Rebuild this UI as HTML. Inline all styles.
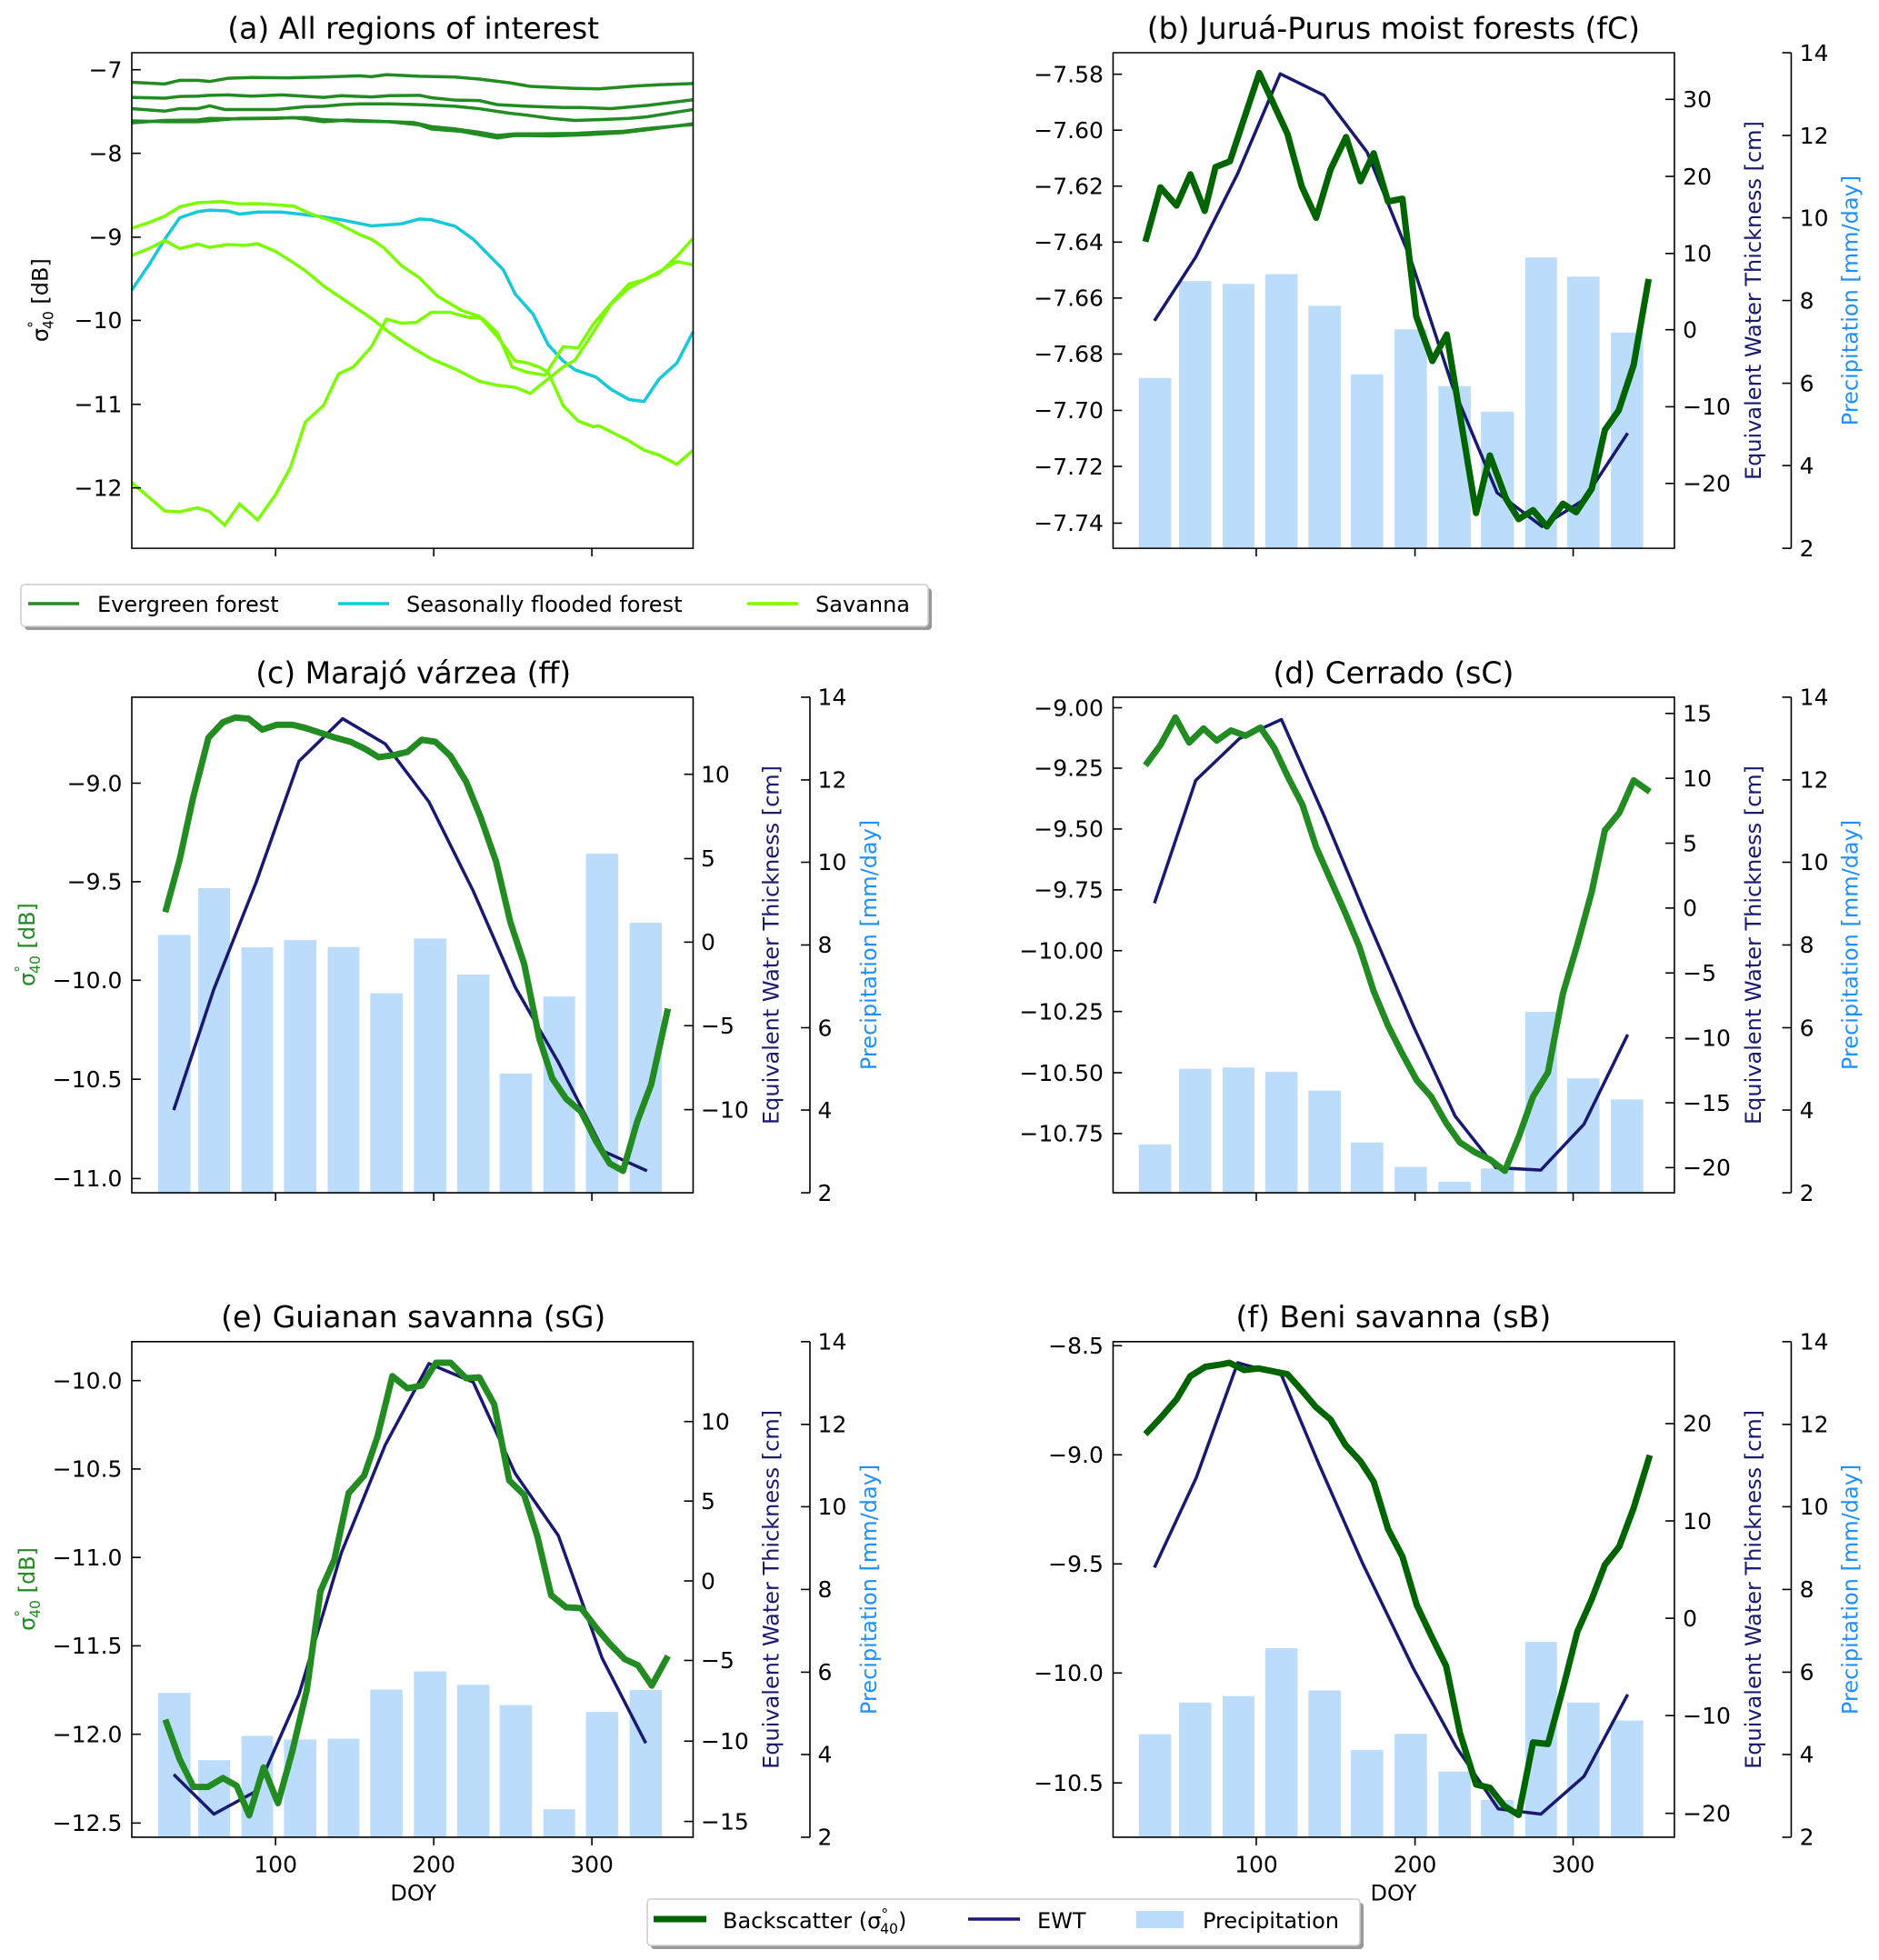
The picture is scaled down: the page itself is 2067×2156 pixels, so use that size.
<!DOCTYPE html>
<html><head><meta charset="utf-8"><style>
html,body{margin:0;padding:0;background:#fff}
svg{display:block}
text{font-family:"DejaVu Sans","Liberation Sans",sans-serif;fill:#000}
.t{font-size:25px}
.ti{font-size:33px;text-anchor:middle}
.al{font-size:24px;text-anchor:middle}
polyline,line,rect,path{vector-effect:non-scaling-stroke}
.fr{fill:none;stroke:#000;stroke-width:1.6}
.tk{stroke:#000;stroke-width:1.6}
.g1{fill:none;stroke:#006400;stroke-width:7;stroke-linejoin:round}
.g2{fill:none;stroke:#228B22;stroke-width:7;stroke-linejoin:round}
.nv{fill:none;stroke:#191970;stroke-width:3.5;stroke-linejoin:round}
.bar{fill:#bcdcfc}
.ev{fill:none;stroke:#228B22;stroke-width:3.5}
.cy{fill:none;stroke:#17c8d8;stroke-width:3.5}
.sv{fill:none;stroke:#7CFC00;stroke-width:3.5}
</style></head><body>
<svg width="2067" height="2156" viewBox="0 0 2067 2156" xmlns="http://www.w3.org/2000/svg">
<rect x="0" y="0" width="2067" height="2156" fill="#fff"/>

<!-- Panel a -->
<g transform="translate(0,0) scale(0.659,0.4461)">
<polyline class="ev" points="220,203 275,207 300,198 330,198 350,201 380,193 420,191 480,192 540,190 600,187 620,189 645,184 700,188 760,190 800,195 850,204 885,213 960,218 1000,219 1060,212 1100,209 1157,206"/>
<polyline class="ev" points="220,240 275,242 300,238 330,237 350,235 380,234 420,237 470,234 540,240 570,236 620,239 650,236 700,235 720,241 760,247 800,248 830,258 880,262 940,265 970,265 1020,268 1080,260 1157,246"/>
<polyline class="ev" points="220,268 275,274 300,268 330,268 350,261 375,270 420,270 460,270 510,263 540,262 570,258 600,256 650,256 700,258 760,262 800,268 850,279 880,284 920,292 960,297 1000,295 1050,292 1080,288 1157,270"/>
<polyline class="ev" points="220,303 275,297 330,296 350,292 400,293 460,292 490,290 540,300 580,296 650,300 690,302 720,312 760,318 800,326 830,334 860,330 900,330 960,329 1000,326 1040,324 1080,317 1157,307"/>
<polyline class="ev" points="220,298 275,300 330,300 400,292 460,291 510,290 540,295 600,299 650,300 700,308 720,318 770,324 810,335 830,340 860,334 920,335 980,332 1040,327 1090,318 1157,305"/>
<polyline class="cy" points="220,715 250,650 275,590 300,537 330,522 350,518 380,520 400,528 430,523 470,523 500,528 540,535 570,542 620,557 670,552 700,540 720,542 760,558 790,590 810,620 840,665 860,725 890,775 915,850 940,890 960,912 995,930 1020,960 1050,985 1075,990 1100,935 1130,895 1157,818"/>
<polyline class="sv" points="220,563 250,548 275,533 300,510 330,500 370,497 400,503 430,502 460,505 490,508 520,528 560,548 600,578 620,590 640,610 670,655 700,685 730,730 770,765 800,780 830,830 860,890 880,895 900,905 915,918 940,1000 965,1038 990,1052 1000,1050 1020,1065 1050,1087 1075,1110 1100,1122 1130,1145 1157,1110"/>
<polyline class="sv" points="220,630 250,612 275,593 300,613 330,602 350,610 380,603 410,605 430,601 460,620 490,648 510,668 540,705 570,735 600,765 620,785 650,820 680,850 720,885 760,910 800,940 830,950 860,955 885,970 910,940 940,905 960,888 990,820 1020,750 1050,710 1075,690 1100,670 1130,645 1157,653"/>
<polyline class="sv" points="220,1190 250,1228 275,1260 300,1262 330,1252 350,1262 375,1295 400,1243 430,1282 460,1220 485,1152 510,1040 540,1000 565,922 590,905 620,855 645,787 670,797 695,795 720,770 750,770 780,782 805,785 830,820 855,905 880,918 910,925 940,855 965,858 990,800 1020,748 1050,700 1075,690 1100,674 1130,632 1157,588"/>
<rect class="fr" x="220" y="130" width="937" height="1222"/>
<line class="tk" x1="220" y1="172" x2="235" y2="172"/><line class="tk" x1="220" y1="378" x2="235" y2="378"/><line class="tk" x1="220" y1="585" x2="235" y2="585"/><line class="tk" x1="220" y1="790" x2="235" y2="790"/><line class="tk" x1="220" y1="997" x2="235" y2="997"/><line class="tk" x1="220" y1="1203" x2="235" y2="1203"/>
<line class="tk" x1="460" y1="1352" x2="460" y2="1372"/><line class="tk" x1="724" y1="1352" x2="724" y2="1372"/><line class="tk" x1="988" y1="1352" x2="988" y2="1372"/>
<g class="t" text-anchor="end">
<text transform="translate(204,172) scale(1.5175,2.2416)" dy=".35em">−7</text>
<text transform="translate(204,378) scale(1.5175,2.2416)" dy=".35em">−8</text>
<text transform="translate(204,585) scale(1.5175,2.2416)" dy=".35em">−9</text>
<text transform="translate(204,790) scale(1.5175,2.2416)" dy=".35em">−10</text>
<text transform="translate(204,997) scale(1.5175,2.2416)" dy=".35em">−11</text>
<text transform="translate(204,1203) scale(1.5175,2.2416)" dy=".35em">−12</text>
</g>
<text class="ti" transform="translate(690,95) scale(1.5175,2.2416)">(a) All regions of interest</text>
<text class="al" transform="translate(80,740) scale(1.5175,2.2416) rotate(-90)">σ<tspan font-size="65%" dy="-10">°</tspan><tspan font-size="65%" dx="-9" dy="16">40</tspan><tspan dy="-6"> [dB]</tspan></text>
</g>

<!-- legend a -->
<rect x="27" y="647" width="998" height="46" rx="4" fill="#999"/>
<rect x="23" y="643" width="998" height="46" rx="4" fill="#fff" stroke="#ccc" stroke-width="1.5"/>
<line x1="31" y1="664" x2="87" y2="664" stroke="#228B22" stroke-width="3.5"/>
<text x="107" y="673" style="font-size:24px">Evergreen forest</text>
<line x1="372" y1="664" x2="428" y2="664" stroke="#17c8d8" stroke-width="3.5"/>
<text x="447" y="673" style="font-size:24px">Seasonally flooded forest</text>
<line x1="822" y1="664" x2="878" y2="664" stroke="#7CFC00" stroke-width="3.5"/>
<text x="897" y="673" style="font-size:24px">Savanna</text>

<!-- Panel b -->
<g transform="translate(1034,0) scale(0.659,0.4461)">
<g class="bar">
<rect x="332" y="932" width="54" height="420"/><rect x="399" y="693" width="54" height="659"/><rect x="472" y="700" width="53" height="652"/><rect x="543" y="676" width="54" height="676"/><rect x="615" y="754" width="54" height="598"/><rect x="686" y="923" width="54" height="429"/><rect x="759" y="812" width="54" height="540"/><rect x="832" y="952" width="54" height="400"/><rect x="903" y="1015" width="55" height="337"/><rect x="977" y="635" width="53" height="717"/><rect x="1047" y="682" width="54" height="670"/><rect x="1120" y="820" width="54" height="532"/>
</g>
<polyline class="nv" points="358,791 427,634 497,428 568,182 641,235 713,375 786,640 855,950 930,1215 1005,1298 1075,1232 1148,1068"/>
<polyline class="g1" points="343,596 368,462 395,507 418,430 442,520 460,412 484,398 533,180 580,330 604,460 628,537 652,418 678,338 702,447 724,378 748,497 772,490 795,780 822,890 846,825 895,1265 918,1123 945,1230 966,1280 990,1258 1013,1298 1040,1242 1062,1263 1088,1205 1110,1060 1133,1012 1158,900 1183,688"/>
<rect class="fr" x="289" y="130" width="937" height="1222"/>
<line class="tk" x1="1421" y1="130" x2="1421" y2="1352"/>
<g class="tk">
<line x1="289" y1="183" x2="304" y2="183"/><line x1="289" y1="321" x2="304" y2="321"/><line x1="289" y1="459" x2="304" y2="459"/><line x1="289" y1="597" x2="304" y2="597"/><line x1="289" y1="735" x2="304" y2="735"/><line x1="289" y1="873" x2="304" y2="873"/><line x1="289" y1="1012" x2="304" y2="1012"/><line x1="289" y1="1150" x2="304" y2="1150"/><line x1="289" y1="1290" x2="304" y2="1290"/>
<line x1="1211" y1="245" x2="1226" y2="245"/><line x1="1211" y1="435" x2="1226" y2="435"/><line x1="1211" y1="625" x2="1226" y2="625"/><line x1="1211" y1="813" x2="1226" y2="813"/><line x1="1211" y1="1003" x2="1226" y2="1003"/><line x1="1211" y1="1192" x2="1226" y2="1192"/>
<line x1="1406" y1="130" x2="1421" y2="130"/><line x1="1406" y1="334" x2="1421" y2="334"/><line x1="1406" y1="537" x2="1421" y2="537"/><line x1="1406" y1="741" x2="1421" y2="741"/><line x1="1406" y1="945" x2="1421" y2="945"/><line x1="1406" y1="1148" x2="1421" y2="1148"/><line x1="1406" y1="1352" x2="1421" y2="1352"/>
<line x1="528" y1="1352" x2="528" y2="1372"/><line x1="793" y1="1352" x2="793" y2="1372"/><line x1="1057" y1="1352" x2="1057" y2="1372"/>
</g>
<g class="t" text-anchor="end">
<text transform="translate(273,183) scale(1.5175,2.2416)" dy=".35em">−7.58</text>
<text transform="translate(273,321) scale(1.5175,2.2416)" dy=".35em">−7.60</text>
<text transform="translate(273,459) scale(1.5175,2.2416)" dy=".35em">−7.62</text>
<text transform="translate(273,597) scale(1.5175,2.2416)" dy=".35em">−7.64</text>
<text transform="translate(273,735) scale(1.5175,2.2416)" dy=".35em">−7.66</text>
<text transform="translate(273,873) scale(1.5175,2.2416)" dy=".35em">−7.68</text>
<text transform="translate(273,1012) scale(1.5175,2.2416)" dy=".35em">−7.70</text>
<text transform="translate(273,1150) scale(1.5175,2.2416)" dy=".35em">−7.72</text>
<text transform="translate(273,1290) scale(1.5175,2.2416)" dy=".35em">−7.74</text>
</g>
<g class="t">
<text transform="translate(1240,245) scale(1.5175,2.2416)" dy=".35em">30</text>
<text transform="translate(1240,435) scale(1.5175,2.2416)" dy=".35em">20</text>
<text transform="translate(1240,625) scale(1.5175,2.2416)" dy=".35em">10</text>
<text transform="translate(1240,813) scale(1.5175,2.2416)" dy=".35em">0</text>
<text transform="translate(1240,1003) scale(1.5175,2.2416)" dy=".35em">−10</text>
<text transform="translate(1240,1192) scale(1.5175,2.2416)" dy=".35em">−20</text>
<text transform="translate(1435,130) scale(1.5175,2.2416)" dy=".35em">14</text>
<text transform="translate(1435,334) scale(1.5175,2.2416)" dy=".35em">12</text>
<text transform="translate(1435,537) scale(1.5175,2.2416)" dy=".35em">10</text>
<text transform="translate(1435,741) scale(1.5175,2.2416)" dy=".35em">8</text>
<text transform="translate(1435,945) scale(1.5175,2.2416)" dy=".35em">6</text>
<text transform="translate(1435,1148) scale(1.5175,2.2416)" dy=".35em">4</text>
<text transform="translate(1435,1352) scale(1.5175,2.2416)" dy=".35em">2</text>
</g>
<text class="ti" transform="translate(757,95) scale(1.5175,2.2416)">(b) Juruá-Purus moist forests (fC)</text>
<text class="al" style="fill:#191970" transform="translate(1370,741) scale(1.5175,2.2416) rotate(-90)">Equivalent Water Thickness [cm]</text>
<text class="al" style="fill:#1E90FF" transform="translate(1532,741) scale(1.5175,2.2416) rotate(-90)">Precipitation [mm/day]</text>
</g>

<!-- Panel c -->
<g transform="translate(0,700) scale(0.659,0.4461)">
<g class="bar">
<rect x="264" y="736" width="54" height="636"/><rect x="331" y="621" width="53" height="751"/><rect x="403" y="767" width="53" height="605"/><rect x="474" y="749" width="54" height="623"/><rect x="547" y="766" width="53" height="606"/><rect x="618" y="880" width="54" height="492"/><rect x="691" y="745" width="54" height="627"/><rect x="763" y="834" width="54" height="538"/><rect x="834" y="1078" width="54" height="294"/><rect x="907" y="888" width="53" height="484"/><rect x="978" y="536" width="54" height="836"/><rect x="1051" y="706" width="54" height="666"/>
</g>
<polyline class="nv" points="290,1168 357,870 428,605 499,308 572,203 643,265 716,408 790,628 860,865 932,1050 1008,1270 1080,1318"/>
<polyline class="g2" points="276,680 300,550 322,400 348,250 372,212 393,200 415,203 438,230 462,218 488,218 510,226 535,238 560,250 585,260 610,278 632,298 657,293 680,285 704,255 727,260 752,295 778,358 802,445 828,555 852,705 875,808 900,990 922,1090 945,1140 970,1172 995,1245 1018,1300 1040,1318 1064,1195 1087,1105 1115,918"/>
<rect class="fr" x="220" y="150" width="937" height="1222"/>
<line class="tk" x1="1352" y1="150" x2="1352" y2="1372"/>
<g class="tk">
<line x1="220" y1="362" x2="235" y2="362"/><line x1="220" y1="605" x2="235" y2="605"/><line x1="220" y1="848" x2="235" y2="848"/><line x1="220" y1="1092" x2="235" y2="1092"/><line x1="220" y1="1337" x2="235" y2="1337"/>
<line x1="1142" y1="340" x2="1157" y2="340"/><line x1="1142" y1="548" x2="1157" y2="548"/><line x1="1142" y1="754" x2="1157" y2="754"/><line x1="1142" y1="960" x2="1157" y2="960"/><line x1="1142" y1="1167" x2="1157" y2="1167"/>
<line x1="1337" y1="150" x2="1352" y2="150"/><line x1="1337" y1="354" x2="1352" y2="354"/><line x1="1337" y1="557" x2="1352" y2="557"/><line x1="1337" y1="761" x2="1352" y2="761"/><line x1="1337" y1="965" x2="1352" y2="965"/><line x1="1337" y1="1168" x2="1352" y2="1168"/><line x1="1337" y1="1372" x2="1352" y2="1372"/>
<line x1="460" y1="1372" x2="460" y2="1392"/><line x1="724" y1="1372" x2="724" y2="1392"/><line x1="988" y1="1372" x2="988" y2="1392"/>
</g>
<g class="t" text-anchor="end">
<text transform="translate(204,362) scale(1.5175,2.2416)" dy=".35em">−9.0</text>
<text transform="translate(204,605) scale(1.5175,2.2416)" dy=".35em">−9.5</text>
<text transform="translate(204,848) scale(1.5175,2.2416)" dy=".35em">−10.0</text>
<text transform="translate(204,1092) scale(1.5175,2.2416)" dy=".35em">−10.5</text>
<text transform="translate(204,1337) scale(1.5175,2.2416)" dy=".35em">−11.0</text>
</g>
<g class="t">
<text transform="translate(1170,340) scale(1.5175,2.2416)" dy=".35em">10</text>
<text transform="translate(1170,548) scale(1.5175,2.2416)" dy=".35em">5</text>
<text transform="translate(1170,754) scale(1.5175,2.2416)" dy=".35em">0</text>
<text transform="translate(1170,960) scale(1.5175,2.2416)" dy=".35em">−5</text>
<text transform="translate(1170,1167) scale(1.5175,2.2416)" dy=".35em">−10</text>
<text transform="translate(1365,150) scale(1.5175,2.2416)" dy=".35em">14</text>
<text transform="translate(1365,354) scale(1.5175,2.2416)" dy=".35em">12</text>
<text transform="translate(1365,557) scale(1.5175,2.2416)" dy=".35em">10</text>
<text transform="translate(1365,761) scale(1.5175,2.2416)" dy=".35em">8</text>
<text transform="translate(1365,965) scale(1.5175,2.2416)" dy=".35em">6</text>
<text transform="translate(1365,1168) scale(1.5175,2.2416)" dy=".35em">4</text>
<text transform="translate(1365,1372) scale(1.5175,2.2416)" dy=".35em">2</text>
</g>
<text class="ti" transform="translate(690,115) scale(1.5175,2.2416)">(c) Marajó várzea (ff)</text>
<text class="al" style="fill:#228B22" transform="translate(58,760) scale(1.5175,2.2416) rotate(-90)">σ<tspan font-size="65%" dy="-10">°</tspan><tspan font-size="65%" dx="-9" dy="16">40</tspan><tspan dy="-6"> [dB]</tspan></text>
<text class="al" style="fill:#191970" transform="translate(1300,761) scale(1.5175,2.2416) rotate(-90)">Equivalent Water Thickness [cm]</text>
<text class="al" style="fill:#1E90FF" transform="translate(1463,761) scale(1.5175,2.2416) rotate(-90)">Precipitation [mm/day]</text>
</g>

<!-- Panel d -->
<g transform="translate(1034,700) scale(0.659,0.4461)">
<g class="bar">
<rect x="332" y="1253" width="54" height="119"/><rect x="399" y="1066" width="54" height="306"/><rect x="472" y="1063" width="53" height="309"/><rect x="543" y="1074" width="54" height="298"/><rect x="615" y="1120" width="54" height="252"/><rect x="686" y="1248" width="54" height="124"/><rect x="759" y="1308" width="54" height="64"/><rect x="832" y="1345" width="54" height="27"/><rect x="903" y="1312" width="55" height="60"/><rect x="977" y="926" width="53" height="446"/><rect x="1047" y="1090" width="54" height="282"/><rect x="1120" y="1142" width="54" height="230"/>
</g>
<polyline class="nv" points="358,658 427,355 500,252 570,205 642,445 714,700 790,960 860,1183 928,1310 1003,1316 1075,1203 1148,982"/>
<polyline class="g2" points="343,318 368,268 393,200 416,262 440,227 462,257 486,232 510,245 535,225 558,275 582,350 605,415 628,520 652,600 676,680 700,765 724,875 748,960 772,1030 796,1095 820,1135 845,1200 868,1248 893,1272 918,1290 943,1318 966,1235 990,1135 1015,1075 1040,880 1064,760 1088,630 1110,478 1134,435 1158,355 1185,383"/>
<rect class="fr" x="289" y="150" width="937" height="1222"/>
<line class="tk" x1="1421" y1="150" x2="1421" y2="1372"/>
<g class="tk">
<line x1="289" y1="176" x2="304" y2="176"/><line x1="289" y1="325" x2="304" y2="325"/><line x1="289" y1="475" x2="304" y2="475"/><line x1="289" y1="625" x2="304" y2="625"/><line x1="289" y1="775" x2="304" y2="775"/><line x1="289" y1="925" x2="304" y2="925"/><line x1="289" y1="1076" x2="304" y2="1076"/><line x1="289" y1="1226" x2="304" y2="1226"/>
<line x1="1211" y1="190" x2="1226" y2="190"/><line x1="1211" y1="350" x2="1226" y2="350"/><line x1="1211" y1="510" x2="1226" y2="510"/><line x1="1211" y1="670" x2="1226" y2="670"/><line x1="1211" y1="830" x2="1226" y2="830"/><line x1="1211" y1="990" x2="1226" y2="990"/><line x1="1211" y1="1150" x2="1226" y2="1150"/><line x1="1211" y1="1310" x2="1226" y2="1310"/>
<line x1="1406" y1="150" x2="1421" y2="150"/><line x1="1406" y1="354" x2="1421" y2="354"/><line x1="1406" y1="557" x2="1421" y2="557"/><line x1="1406" y1="761" x2="1421" y2="761"/><line x1="1406" y1="965" x2="1421" y2="965"/><line x1="1406" y1="1168" x2="1421" y2="1168"/><line x1="1406" y1="1372" x2="1421" y2="1372"/>
<line x1="528" y1="1372" x2="528" y2="1392"/><line x1="793" y1="1372" x2="793" y2="1392"/><line x1="1057" y1="1372" x2="1057" y2="1392"/>
</g>
<g class="t" text-anchor="end">
<text transform="translate(273,176) scale(1.5175,2.2416)" dy=".35em">−9.00</text>
<text transform="translate(273,325) scale(1.5175,2.2416)" dy=".35em">−9.25</text>
<text transform="translate(273,475) scale(1.5175,2.2416)" dy=".35em">−9.50</text>
<text transform="translate(273,625) scale(1.5175,2.2416)" dy=".35em">−9.75</text>
<text transform="translate(273,775) scale(1.5175,2.2416)" dy=".35em">−10.00</text>
<text transform="translate(273,925) scale(1.5175,2.2416)" dy=".35em">−10.25</text>
<text transform="translate(273,1076) scale(1.5175,2.2416)" dy=".35em">−10.50</text>
<text transform="translate(273,1226) scale(1.5175,2.2416)" dy=".35em">−10.75</text>
</g>
<g class="t">
<text transform="translate(1240,190) scale(1.5175,2.2416)" dy=".35em">15</text>
<text transform="translate(1240,350) scale(1.5175,2.2416)" dy=".35em">10</text>
<text transform="translate(1240,510) scale(1.5175,2.2416)" dy=".35em">5</text>
<text transform="translate(1240,670) scale(1.5175,2.2416)" dy=".35em">0</text>
<text transform="translate(1240,830) scale(1.5175,2.2416)" dy=".35em">−5</text>
<text transform="translate(1240,990) scale(1.5175,2.2416)" dy=".35em">−10</text>
<text transform="translate(1240,1150) scale(1.5175,2.2416)" dy=".35em">−15</text>
<text transform="translate(1240,1310) scale(1.5175,2.2416)" dy=".35em">−20</text>
<text transform="translate(1435,150) scale(1.5175,2.2416)" dy=".35em">14</text>
<text transform="translate(1435,354) scale(1.5175,2.2416)" dy=".35em">12</text>
<text transform="translate(1435,557) scale(1.5175,2.2416)" dy=".35em">10</text>
<text transform="translate(1435,761) scale(1.5175,2.2416)" dy=".35em">8</text>
<text transform="translate(1435,965) scale(1.5175,2.2416)" dy=".35em">6</text>
<text transform="translate(1435,1168) scale(1.5175,2.2416)" dy=".35em">4</text>
<text transform="translate(1435,1372) scale(1.5175,2.2416)" dy=".35em">2</text>
</g>
<text class="ti" transform="translate(757,115) scale(1.5175,2.2416)">(d) Cerrado (sC)</text>
<text class="al" style="fill:#191970" transform="translate(1370,761) scale(1.5175,2.2416) rotate(-90)">Equivalent Water Thickness [cm]</text>
<text class="al" style="fill:#1E90FF" transform="translate(1532,761) scale(1.5175,2.2416) rotate(-90)">Precipitation [mm/day]</text>
</g>

<!-- Panel e -->
<g transform="translate(0,1400) scale(0.659,0.4461)">
<g class="bar">
<rect x="264" y="1036" width="54" height="356"/><rect x="331" y="1202" width="53" height="190"/><rect x="403" y="1142" width="53" height="250"/><rect x="474" y="1151" width="54" height="241"/><rect x="547" y="1149" width="53" height="243"/><rect x="618" y="1028" width="54" height="364"/><rect x="691" y="983" width="54" height="409"/><rect x="763" y="1016" width="54" height="376"/><rect x="834" y="1066" width="54" height="326"/><rect x="907" y="1323" width="53" height="69"/><rect x="978" y="1083" width="54" height="309"/><rect x="1051" y="1029" width="54" height="363"/>
</g>
<polyline class="nv" points="290,1237 357,1335 428,1278 499,1040 570,690 643,425 716,224 790,270 860,495 932,648 1005,950 1078,1160"/>
<polyline class="g2" points="276,1102 300,1200 323,1268 347,1268 372,1246 395,1265 416,1338 440,1220 464,1308 488,1180 512,1030 535,785 558,708 582,543 608,500 630,405 655,255 680,285 704,278 728,222 752,222 778,260 800,258 825,325 850,512 875,548 897,650 920,795 945,825 970,827 995,875 1018,915 1043,953 1065,968 1088,1018 1115,945"/>
<rect class="fr" x="220" y="170" width="937" height="1222"/>
<line class="tk" x1="1352" y1="170" x2="1352" y2="1392"/>
<g class="tk">
<line x1="220" y1="266" x2="235" y2="266"/><line x1="220" y1="484" x2="235" y2="484"/><line x1="220" y1="702" x2="235" y2="702"/><line x1="220" y1="920" x2="235" y2="920"/><line x1="220" y1="1138" x2="235" y2="1138"/><line x1="220" y1="1357" x2="235" y2="1357"/>
<line x1="1142" y1="367" x2="1157" y2="367"/><line x1="1142" y1="563" x2="1157" y2="563"/><line x1="1142" y1="760" x2="1157" y2="760"/><line x1="1142" y1="956" x2="1157" y2="956"/><line x1="1142" y1="1155" x2="1157" y2="1155"/><line x1="1142" y1="1353" x2="1157" y2="1353"/>
<line x1="1337" y1="170" x2="1352" y2="170"/><line x1="1337" y1="374" x2="1352" y2="374"/><line x1="1337" y1="577" x2="1352" y2="577"/><line x1="1337" y1="781" x2="1352" y2="781"/><line x1="1337" y1="985" x2="1352" y2="985"/><line x1="1337" y1="1188" x2="1352" y2="1188"/><line x1="1337" y1="1392" x2="1352" y2="1392"/>
<line x1="460" y1="1392" x2="460" y2="1412"/><line x1="724" y1="1392" x2="724" y2="1412"/><line x1="988" y1="1392" x2="988" y2="1412"/>
</g>
<g class="t" text-anchor="end">
<text transform="translate(204,266) scale(1.5175,2.2416)" dy=".35em">−10.0</text>
<text transform="translate(204,484) scale(1.5175,2.2416)" dy=".35em">−10.5</text>
<text transform="translate(204,702) scale(1.5175,2.2416)" dy=".35em">−11.0</text>
<text transform="translate(204,920) scale(1.5175,2.2416)" dy=".35em">−11.5</text>
<text transform="translate(204,1138) scale(1.5175,2.2416)" dy=".35em">−12.0</text>
<text transform="translate(204,1357) scale(1.5175,2.2416)" dy=".35em">−12.5</text>
</g>
<g class="t">
<text transform="translate(1170,367) scale(1.5175,2.2416)" dy=".35em">10</text>
<text transform="translate(1170,563) scale(1.5175,2.2416)" dy=".35em">5</text>
<text transform="translate(1170,760) scale(1.5175,2.2416)" dy=".35em">0</text>
<text transform="translate(1170,956) scale(1.5175,2.2416)" dy=".35em">−5</text>
<text transform="translate(1170,1155) scale(1.5175,2.2416)" dy=".35em">−10</text>
<text transform="translate(1170,1353) scale(1.5175,2.2416)" dy=".35em">−15</text>
<text transform="translate(1365,170) scale(1.5175,2.2416)" dy=".35em">14</text>
<text transform="translate(1365,374) scale(1.5175,2.2416)" dy=".35em">12</text>
<text transform="translate(1365,577) scale(1.5175,2.2416)" dy=".35em">10</text>
<text transform="translate(1365,781) scale(1.5175,2.2416)" dy=".35em">8</text>
<text transform="translate(1365,985) scale(1.5175,2.2416)" dy=".35em">6</text>
<text transform="translate(1365,1188) scale(1.5175,2.2416)" dy=".35em">4</text>
<text transform="translate(1365,1392) scale(1.5175,2.2416)" dy=".35em">2</text>
</g>
<g class="t" text-anchor="middle">
<text transform="translate(460,1478) scale(1.5175,2.2416)">100</text>
<text transform="translate(724,1478) scale(1.5175,2.2416)">200</text>
<text transform="translate(988,1478) scale(1.5175,2.2416)">300</text>
<text style="font-size:24px" transform="translate(690,1548) scale(1.5175,2.2416)">DOY</text>
</g>
<text class="ti" transform="translate(690,135) scale(1.5175,2.2416)">(e) Guianan savanna (sG)</text>
<text class="al" style="fill:#228B22" transform="translate(58,780) scale(1.5175,2.2416) rotate(-90)">σ<tspan font-size="65%" dy="-10">°</tspan><tspan font-size="65%" dx="-9" dy="16">40</tspan><tspan dy="-6"> [dB]</tspan></text>
<text class="al" style="fill:#191970" transform="translate(1300,781) scale(1.5175,2.2416) rotate(-90)">Equivalent Water Thickness [cm]</text>
<text class="al" style="fill:#1E90FF" transform="translate(1463,781) scale(1.5175,2.2416) rotate(-90)">Precipitation [mm/day]</text>
</g>

<!-- Panel f -->
<g transform="translate(1034,1400) scale(0.659,0.4461)">
<g class="bar">
<rect x="332" y="1138" width="54" height="254"/><rect x="399" y="1060" width="54" height="332"/><rect x="472" y="1044" width="53" height="348"/><rect x="543" y="926" width="54" height="466"/><rect x="615" y="1030" width="54" height="362"/><rect x="686" y="1177" width="54" height="215"/><rect x="759" y="1137" width="54" height="255"/><rect x="832" y="1230" width="54" height="162"/><rect x="903" y="1300" width="55" height="92"/><rect x="977" y="910" width="53" height="482"/><rect x="1047" y="1060" width="54" height="332"/><rect x="1120" y="1104" width="54" height="288"/>
</g>
<polyline class="nv" points="358,727 428,505 497,222 570,252 632,470 705,715 790,975 862,1170 932,1322 1003,1335 1075,1242 1148,1040"/>
<polyline class="g1" points="343,398 370,355 395,312 418,255 443,232 470,226 483,222 508,240 532,236 556,243 580,250 604,290 628,332 652,362 677,425 702,465 724,515 748,632 772,700 796,820 820,895 845,970 868,1135 895,1262 918,1270 942,1315 966,1337 990,1158 1015,1162 1040,1025 1064,885 1088,805 1110,720 1134,675 1158,580 1185,450"/>
<rect class="fr" x="289" y="170" width="937" height="1222"/>
<line class="tk" x1="1421" y1="170" x2="1421" y2="1392"/>
<g class="tk">
<line x1="289" y1="180" x2="304" y2="180"/><line x1="289" y1="449" x2="304" y2="449"/><line x1="289" y1="718" x2="304" y2="718"/><line x1="289" y1="987" x2="304" y2="987"/><line x1="289" y1="1258" x2="304" y2="1258"/>
<line x1="1211" y1="372" x2="1226" y2="372"/><line x1="1211" y1="612" x2="1226" y2="612"/><line x1="1211" y1="852" x2="1226" y2="852"/><line x1="1211" y1="1092" x2="1226" y2="1092"/><line x1="1211" y1="1333" x2="1226" y2="1333"/>
<line x1="1406" y1="170" x2="1421" y2="170"/><line x1="1406" y1="374" x2="1421" y2="374"/><line x1="1406" y1="577" x2="1421" y2="577"/><line x1="1406" y1="781" x2="1421" y2="781"/><line x1="1406" y1="985" x2="1421" y2="985"/><line x1="1406" y1="1188" x2="1421" y2="1188"/><line x1="1406" y1="1392" x2="1421" y2="1392"/>
<line x1="528" y1="1392" x2="528" y2="1412"/><line x1="793" y1="1392" x2="793" y2="1412"/><line x1="1057" y1="1392" x2="1057" y2="1412"/>
</g>
<g class="t" text-anchor="end">
<text transform="translate(273,180) scale(1.5175,2.2416)" dy=".35em">−8.5</text>
<text transform="translate(273,449) scale(1.5175,2.2416)" dy=".35em">−9.0</text>
<text transform="translate(273,718) scale(1.5175,2.2416)" dy=".35em">−9.5</text>
<text transform="translate(273,987) scale(1.5175,2.2416)" dy=".35em">−10.0</text>
<text transform="translate(273,1258) scale(1.5175,2.2416)" dy=".35em">−10.5</text>
</g>
<g class="t">
<text transform="translate(1240,372) scale(1.5175,2.2416)" dy=".35em">20</text>
<text transform="translate(1240,612) scale(1.5175,2.2416)" dy=".35em">10</text>
<text transform="translate(1240,852) scale(1.5175,2.2416)" dy=".35em">0</text>
<text transform="translate(1240,1092) scale(1.5175,2.2416)" dy=".35em">−10</text>
<text transform="translate(1240,1333) scale(1.5175,2.2416)" dy=".35em">−20</text>
<text transform="translate(1435,170) scale(1.5175,2.2416)" dy=".35em">14</text>
<text transform="translate(1435,374) scale(1.5175,2.2416)" dy=".35em">12</text>
<text transform="translate(1435,577) scale(1.5175,2.2416)" dy=".35em">10</text>
<text transform="translate(1435,781) scale(1.5175,2.2416)" dy=".35em">8</text>
<text transform="translate(1435,985) scale(1.5175,2.2416)" dy=".35em">6</text>
<text transform="translate(1435,1188) scale(1.5175,2.2416)" dy=".35em">4</text>
<text transform="translate(1435,1392) scale(1.5175,2.2416)" dy=".35em">2</text>
</g>
<g class="t" text-anchor="middle">
<text transform="translate(528,1478) scale(1.5175,2.2416)">100</text>
<text transform="translate(793,1478) scale(1.5175,2.2416)">200</text>
<text transform="translate(1057,1478) scale(1.5175,2.2416)">300</text>
<text style="font-size:24px" transform="translate(757,1548) scale(1.5175,2.2416)">DOY</text>
</g>
<text class="ti" transform="translate(757,135) scale(1.5175,2.2416)">(f) Beni savanna (sB)</text>
<text class="al" style="fill:#191970" transform="translate(1370,781) scale(1.5175,2.2416) rotate(-90)">Equivalent Water Thickness [cm]</text>
<text class="al" style="fill:#1E90FF" transform="translate(1532,781) scale(1.5175,2.2416) rotate(-90)">Precipitation [mm/day]</text>
</g>

<!-- bottom legend -->
<rect x="716" y="2093" width="784" height="51" rx="4" fill="#999"/>
<rect x="712" y="2089" width="784" height="51" rx="4" fill="#fff" stroke="#ccc" stroke-width="1.5"/>
<line x1="719" y1="2111" x2="777" y2="2111" stroke="#006400" stroke-width="7"/>
<text x="795" y="2121" style="font-size:24px">Backscatter (σ<tspan font-size="65%" dy="-10">°</tspan><tspan font-size="65%" dx="-9" dy="16">40</tspan><tspan dy="-6">)</tspan></text>
<line x1="1065" y1="2111" x2="1122" y2="2111" stroke="#191970" stroke-width="3.5"/>
<text x="1141" y="2121" style="font-size:24px">EWT</text>
<rect x="1250" y="2102" width="52" height="19" fill="#bcdcfc"/>
<text x="1323" y="2121" style="font-size:24px">Precipitation</text>
</svg>
</body></html>
